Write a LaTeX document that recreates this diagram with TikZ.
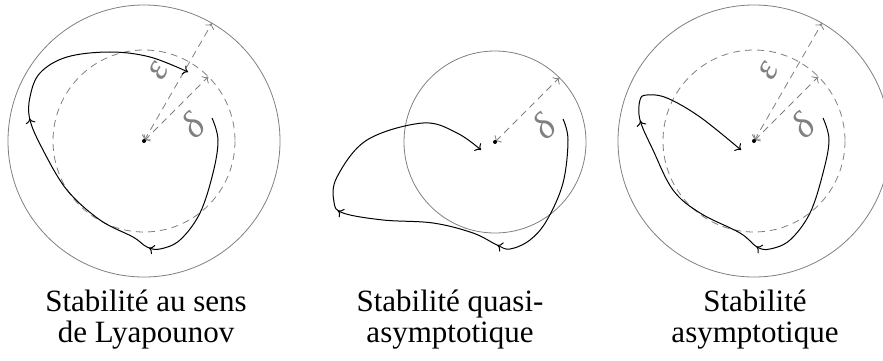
\documentclass[tikz,border=0pt]{standalone}
\usepackage{fontspec}
\setmainfont{Liberation Serif}
\usetikzlibrary{arrows.meta,decorations.markings}
\tikzset{
  outercirc/.style={draw=gray, line width=0.8pt},
  dashcirc/.style={draw=gray, dash pattern=on 7pt off 5pt, line width=0.8pt},
  radarrow/.style={draw=gray, dash pattern=on 7pt off 5pt, line width=0.8pt,
    {To[length=5pt,width=10pt]}-{To[length=5pt,width=10pt]}},
  traj/.style={line width=1pt, -{To[length=5pt,width=10pt]}},
  glabel/.style={text=gray, inner sep=0pt, font=\fontsize{37}{37}\selectfont\itshape, sloped},
  captionline/.style={anchor=base, inner sep=0pt, font=\fontsize{31}{31}\selectfont},
  centerdot/.style={circle, fill=black, inner sep=0pt, minimum size=4pt},
  midarrows/.style 2 args={postaction={decorate, decoration={markings,
    mark=at position #1 with {\arrow{To[length=5pt,width=10pt]}},
    mark=at position #2 with {\arrow{To[length=5pt,width=10pt]}}}}}
}
\begin{document}
\begin{tikzpicture}[x=1pt,y=-1pt]
\useasboundingbox (0,0) rectangle (883,361);
% ---------- panel 1
\coordinate (c1) at (144,141);
\draw[outercirc] (c1) circle (136);
\draw[dashcirc] (c1) circle (91);
\draw[radarrow] (c1) -- ++(-60:136) node[glabel, midway, above=13pt] (e1) {ε};
\draw[radarrow] (c1) -- ++(-45:91) node[glabel, midway, below=10pt] (d1) {δ};
\node[centerdot] (o1) at (c1) {};
\draw[traj, midarrows={0.3}{0.63}] plot[smooth, tension=0.6] coordinates {
  (212,118) (218,140) (213,173) (200,213) (180,240) (160,249) (147,247)
  (133,237) (100,220) (67,190) (43,150) (30,120) (30,97) (40,73) (67,57)
  (110,52) (150,57) (188,72)};
\node[captionline] (t1a) at (146,311) {Stabilité au sens};
\node[captionline] (t1b) at (146,342) {de Lyapounov};
% ---------- panel 2
\coordinate (c2) at (495,142);
\draw[outercirc] (c2) circle (91);
\draw[radarrow] (c2) -- ++(-45:91) node[glabel, midway, below=10pt] (d2) {δ};
\node[centerdot] (o2) at (c2) {};
\draw[traj, midarrows={0.31}{0.615}] plot[smooth, tension=0.6] coordinates {
  (563,119) (568,140) (563,183) (547,220) (530,240) (510,249) (497,245)
  (473,233) (433,223) (383,220) (343,213) (334,202) (337,177) (367,140)
  (423,123) (457,133) (481,150)};
\node[captionline] (t2a) at (450,311) {Stabilité quasi-};
\node[captionline] (t2b) at (450,342) {asymptotique};
% ---------- panel 3
\coordinate (c3) at (754,141);
\draw[outercirc] (c3) circle (136);
\draw[dashcirc] (c3) circle (91);
\draw[radarrow] (c3) -- ++(-60:136) node[glabel, midway, above=13pt] (e3) {ε};
\draw[radarrow] (c3) -- ++(-45:91) node[glabel, midway, below=10pt] (d3) {δ};
\node[centerdot] (o3) at (c3) {};
\draw[traj, midarrows={0.345}{0.71}] plot[smooth, tension=0.6] coordinates {
  (823,118) (829,140) (823,173) (810,213) (790,240) (770,249) (757,247)
  (740,233) (700,213) (673,190) (653,150) (640,120) (640,100) (647,95)
  (667,98) (700,117) (741,150)};
\node[captionline] (t3a) at (755,311) {Stabilité};
\node[captionline] (t3b) at (755,342) {asymptotique};
\end{tikzpicture}
\end{document}
